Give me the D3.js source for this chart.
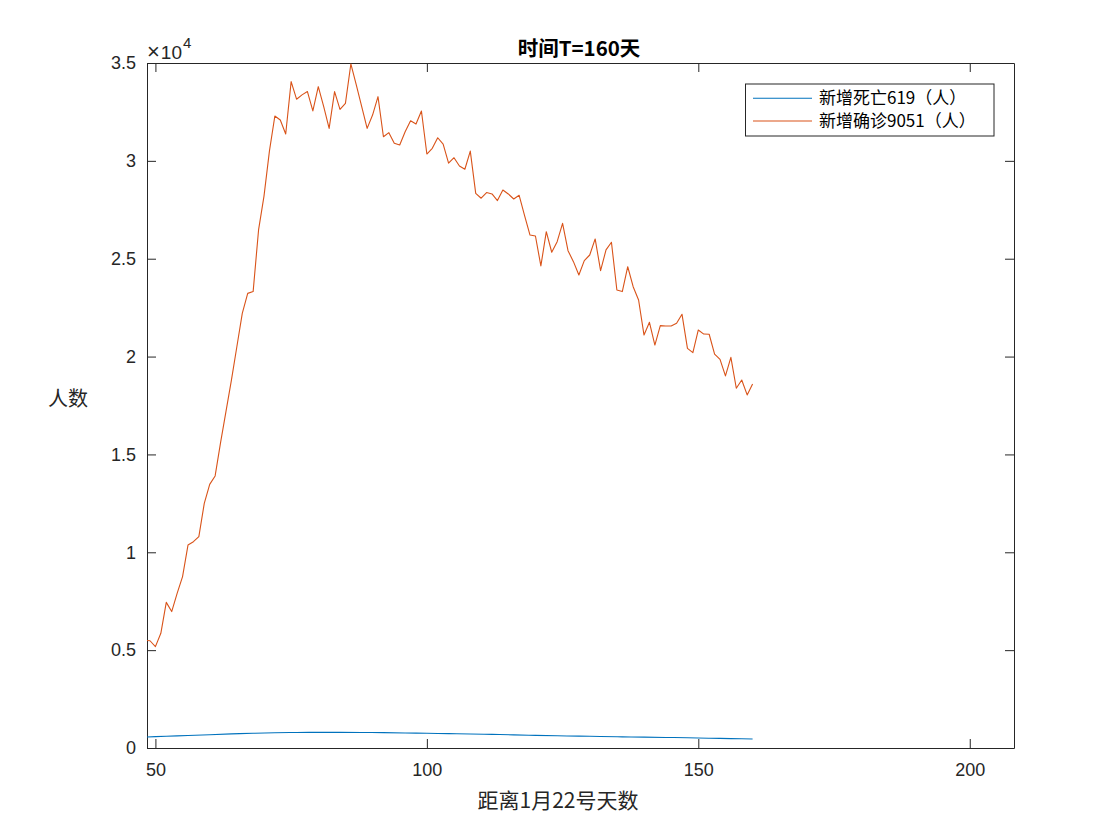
<!DOCTYPE html>
<html>
<head>
<meta charset="utf-8">
<script src="https://cdn.jsdelivr.net/npm/d3@7/dist/d3.min.js"></script>
<style>
  html, body { margin: 0; padding: 0; background: #fff; }
  svg { display: block; }
</style>
</head>
<body>
<svg id="chart" width="1120" height="840"></svg>
<script>
// ---------- data ----------
const titleText = "时间T=160天";
const xLabel = "距离1月22号天数";
const yLabel = "人数";
const seriesNames = ["新增死亡619（人）", "新增确诊9051（人）"];
const xTicks = [50, 100, 150, 200];
const yTicks = [0, 5000, 10000, 15000, 20000, 25000, 30000, 35000];
const yTickLabels = ["0", "0.5", "1", "1.5", "2", "2.5", "3", "3.5"];

// daily new confirmed cases, days 48..160
const confirmedDays = d3.range(48, 161);
const confirmedValues = [
  5500, 5480, 5180, 5860, 7440, 6970, 7900, 8760, 10370, 10540,
  10800, 12500, 13470, 13900, 15600, 17200, 18800, 20500, 22210, 23230,
  23320, 26470, 28200, 30500, 32290, 32090, 31370, 34050, 33150, 33370,
  33540, 32550, 33790, 32770, 31660, 33540, 32630, 32940, 34950, 33880,
  32770, 31660, 32340, 33280, 31230, 31440, 30900, 30810, 31490, 32050,
  31880, 32550, 30350, 30640, 31180, 30860, 29880, 30160, 29740, 29570,
  30500, 28340, 28090, 28380, 28310, 27970, 28510, 28310, 28050, 28240,
  27200, 26210, 26160, 24630, 26380, 25330, 25870, 26810, 25410, 24850,
  24170, 24900, 25190, 26010, 24390, 25450, 25840, 23400, 23320, 24590,
  23570, 22890, 21100, 21750, 20590, 21580, 21560, 21560, 21700, 22160,
  20420, 20200, 21360, 21150, 21140, 20130, 19860, 19010, 19960, 18380,
  18800, 18040, 18600
];

// daily new deaths (smooth curve), sampled every 4 days
const deathDays = [48, 52, 56, 60, 64, 68, 72, 76, 80, 84, 88, 92, 96, 100, 104, 108, 112, 116, 120, 124, 128, 132, 136, 140, 144, 148, 152, 156, 160];
const deathValues = [560, 600, 640, 680, 720, 755, 780, 795, 800, 800, 795, 785, 770, 750, 735, 715, 695, 670, 645, 625, 605, 590, 570, 555, 540, 520, 500, 480, 460];

// ---------- layout ----------
const svg = d3.select("#chart");
const L = 147, R = 1014, T = 63, B = 748;
const axisColor = "#262626";
const colors = ["#0072BD", "#D95319"];
const latin = "'Liberation Sans', Arial, Helvetica, sans-serif";
const cjk = "'Noto Sans CJK SC', 'Liberation Sans', sans-serif";

const x = d3.scaleLinear().domain([48.45, 208.15]).range([L, R]);
const y = d3.scaleLinear().domain([0, 35000]).range([B, T]);

svg.append("defs").append("clipPath").attr("id", "clip")
  .append("rect").attr("x", L).attr("y", T).attr("width", R - L).attr("height", B - T);

svg.append("rect").attr("x", L).attr("y", T).attr("width", R - L).attr("height", B - T).attr("fill", "#fff");

function styleAxis(g) {
  g.selectAll("path.domain").attr("stroke", axisColor).attr("stroke-width", 1);
  g.selectAll(".tick line").attr("stroke", axisColor).attr("stroke-width", 1);
  g.selectAll("text").attr("fill", axisColor).attr("font-family", latin).attr("font-size", 18);
}
const tickLen = 9;

svg.append("g").attr("transform", `translate(0,${B})`)
  .call(d3.axisBottom(x).tickValues(xTicks).tickSizeInner(-tickLen).tickSizeOuter(0).tickPadding(15).tickFormat(d3.format("d")))
  .call(styleAxis);
svg.append("g").attr("transform", `translate(0,${T})`)
  .call(d3.axisTop(x).tickValues(xTicks).tickSizeInner(-tickLen).tickSizeOuter(0).tickFormat(""))
  .call(styleAxis);
svg.append("g").attr("transform", `translate(${L},0)`)
  .call(d3.axisLeft(y).tickValues(yTicks).tickSizeInner(-tickLen).tickSizeOuter(0).tickPadding(11)
    .tickFormat((d, i) => yTickLabels[i]))
  .call(styleAxis);
svg.append("g").attr("transform", `translate(${R},0)`)
  .call(d3.axisRight(y).tickValues(yTicks).tickSizeInner(-tickLen).tickSizeOuter(0).tickFormat(""))
  .call(styleAxis);

// exponent label
const expo = svg.append("text").attr("x", 147).attr("y", 58.5)
  .attr("fill", axisColor).attr("font-family", latin).attr("font-size", 19);
expo.append("tspan").attr("font-size", 22).attr("font-weight", 300).text("×");
expo.append("tspan").attr("dx", 1).text("10");
expo.append("tspan").attr("font-size", 15).attr("dx", 1).attr("dy", -11).text("4");

// lines
const lineGen = d3.line().x(d => x(d[0])).y(d => y(d[1]));
const deathLine = d3.line().x(d => x(d[0])).y(d => y(d[1])).curve(d3.curveMonotoneX);
const plot = svg.append("g").attr("clip-path", "url(#clip)");
plot.append("path")
  .datum(deathDays.map((d, i) => [d, deathValues[i]]))
  .attr("d", deathLine).attr("fill", "none").attr("stroke", colors[0]).attr("stroke-width", 1.1);
plot.append("path")
  .datum(confirmedDays.map((d, i) => [d, confirmedValues[i]]))
  .attr("d", lineGen).attr("fill", "none").attr("stroke", colors[1]).attr("stroke-width", 1.1)
  .attr("stroke-linejoin", "round");

// title
svg.append("text").attr("x", 579).attr("y", 56).attr("text-anchor", "middle")
  .attr("font-family", cjk).attr("font-weight", "bold").attr("font-size", 20.5)
  .attr("fill", "#000").text(titleText);

// axis labels
svg.append("text").attr("x", 558).attr("y", 808).attr("text-anchor", "middle")
  .attr("font-family", cjk).attr("font-size", 21).attr("fill", axisColor).text(xLabel);
svg.append("text").attr("x", 68).attr("y", 406).attr("text-anchor", "middle")
  .attr("font-family", cjk).attr("font-size", 20).attr("fill", axisColor).text(yLabel);

// legend
const lg = svg.append("g");
lg.append("rect").attr("x", 745.5).attr("y", 84).attr("width", 248.5).attr("height", 52)
  .attr("fill", "#fff").attr("stroke", axisColor).attr("stroke-width", 1);
const rowsY = [98.3, 121];
seriesNames.forEach((name, i) => {
  lg.append("line").attr("x1", 753).attr("x2", 812).attr("y1", rowsY[i]).attr("y2", rowsY[i])
    .attr("stroke", colors[i]).attr("stroke-width", 1.1);
  lg.append("text").attr("x", 819).attr("y", rowsY[i]).attr("dy", "0.36em")
    .attr("font-family", cjk).attr("font-size", 17).attr("fill", "#000").text(name);
});
</script>
</body>
</html>
